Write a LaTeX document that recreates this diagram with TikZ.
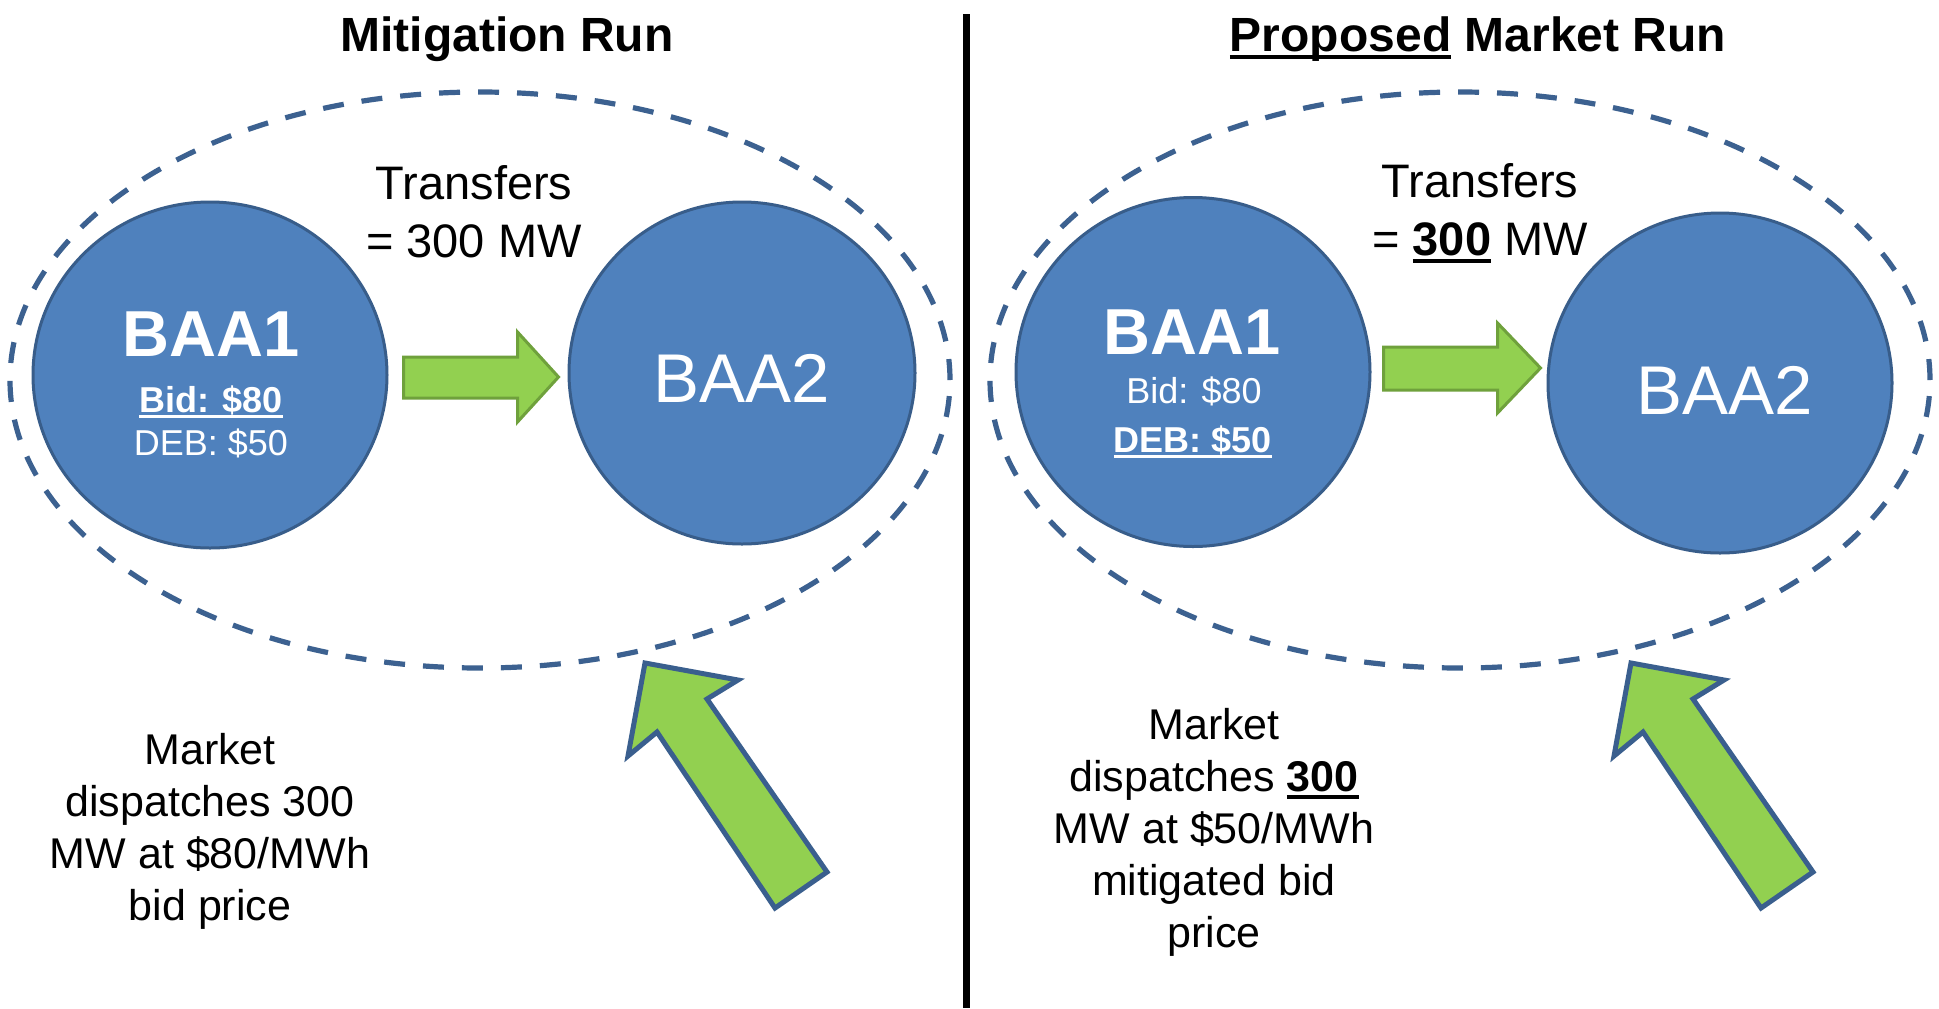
\documentclass[tikz,border=0pt]{standalone}
\usepackage{fontspec}
\setmainfont{Liberation Sans}
\usepackage{xcolor}
\usetikzlibrary{shapes.geometric, calc}

\definecolor{baafill}{HTML}{4F81BD}
\definecolor{baaline}{HTML}{385D8A}
\definecolor{zoneline}{HTML}{3C6190}
\definecolor{flowfill}{HTML}{92D050}
\definecolor{flowline}{HTML}{6FA13C}
\definecolor{pointline}{HTML}{3A5F8E}

\newsavebox{\ulsave}
\newcommand{\ulbar}[1]{\sbox{\ulsave}{#1}\rlap{\rule[-0.17em]{\wd\ulsave}{0.09em}}\usebox{\ulsave}}

\tikzstyle{heading} = [inner sep=0pt, anchor=base, font=\fontsize{24}{29}\selectfont\bfseries]
\tikzstyle{zone} = [ellipse, draw=zoneline, line width=2.6pt, dash pattern=on 10.5pt off 9pt, minimum width=470pt, minimum height=288pt]
\tikzstyle{baa} = [ellipse, draw=baaline, line width=1.5pt, fill=baafill]
\tikzstyle{intext} = [inner sep=0pt, anchor=base, text=white]
\tikzstyle{transfer} = [inner sep=0pt, anchor=north, align=center, font=\fontsize{23.5}{29}\selectfont]
\tikzstyle{note} = [inner sep=0pt, anchor=north, align=center, font=\fontsize{21.5}{26}\selectfont]
\tikzstyle{flow} = [draw=flowline, line width=1.5pt, fill=flowfill, line join=miter]
\tikzstyle{pointer} = [draw=pointline, line width=2.5pt, fill=flowfill, line join=miter]

\begin{document}
\begin{tikzpicture}[x=0.5pt, y=-0.5pt]
\fill[white] (0,0) rectangle (1939,1008);
\useasboundingbox (0,0) rectangle (1939,1008);

% Mitigation run
\node (titleL) [heading] at (507,51) {Mitigation Run};
\node (zoneL) [zone] at (480,380) {};
\node (baaA) [baa, minimum width=177pt, minimum height=173pt] at (210,375) {};
\node (baaB) [baa, minimum width=173pt, minimum height=171pt] at (742,373) {};
\node (nameA) [intext, font=\fontsize{32.5}{37}\selectfont\bfseries] at (211,356) {BAA1};
\node (bidA) [intext, font=\fontsize{18}{22}\selectfont\bfseries] at (211,412) {\ulbar{Bid: \$80}};
\node (debA) [intext, font=\fontsize{18}{22}\selectfont] at (211,455) {DEB: \$50};
\node (nameB) [intext, font=\fontsize{34.5}{40}\selectfont] at (742,402) {BAA2};
\node (transL) [transfer] at (474,165) {Transfers\\= 300 MW};
\draw [flow] ($(baaA.east)+(15,-18)$) -- ($(baaA.east)+(129,-18)$) -- ($(baaA.east)+(129,-43)$)
  -- ($(baaB.west)+(-9,4)$) -- ($(baaA.east)+(129,47)$) -- ($(baaA.east)+(129,23)$)
  -- ($(baaA.east)+(15,23)$) -- cycle;
\node (noteL) [note] at (210,733) {Market\\dispatches 300\\MW at \$80/MWh\\bid price};
\draw [pointer] (645,663) -- (738,680) -- (707,699) -- (827,872) -- (775,908) -- (657,732) -- (628,756) -- cycle;

% divider
\draw [line width=3.5pt] (966,14) -- (966,1008);

% Proposed market run
\node (titleR) [heading] at (1478,51) {\ulbar{Proposed} Market Run};
\node (zoneR) [zone] at (1460,380) {};
\node (baaC) [baa, minimum width=177pt, minimum height=174.5pt] at (1193,372) {};
\node (baaD) [baa, minimum width=172pt, minimum height=170pt] at (1720,383) {};
\node (nameC) [intext, font=\fontsize{32.5}{37}\selectfont\bfseries] at (1192,354) {BAA1};
\node (bidC) [intext, font=\fontsize{18}{22}\selectfont] at (1194,403) {Bid: \$80};
\node (debC) [intext, font=\fontsize{18}{22}\selectfont\bfseries] at (1193,452) {\ulbar{DEB: \$50}};
\node (nameD) [intext, font=\fontsize{34.5}{40}\selectfont] at (1725,414) {BAA2};
\node (transR) [transfer] at (1480,163) {Transfers\\= \ulbar{\textbf{300}} MW};
\draw [flow] ($(baaC.east)+(12,-25)$) -- ($(baaC.east)+(126,-25)$) -- ($(baaC.east)+(126,-49)$)
  -- ($(baaD.west)+(-6,-15)$) -- ($(baaC.east)+(126,41)$) -- ($(baaC.east)+(126,18)$)
  -- ($(baaC.east)+(12,18)$) -- cycle;
\node (noteR) [note] at (1214,708) {Market\\dispatches \ulbar{\textbf{300}}\\MW at \$50/MWh\\mitigated bid\\price};
\draw [pointer] (1631,663) -- (1724,680) -- (1693,699) -- (1813,872) -- (1761,908) -- (1643,732) -- (1614,756) -- cycle;
\end{tikzpicture}
\end{document}
